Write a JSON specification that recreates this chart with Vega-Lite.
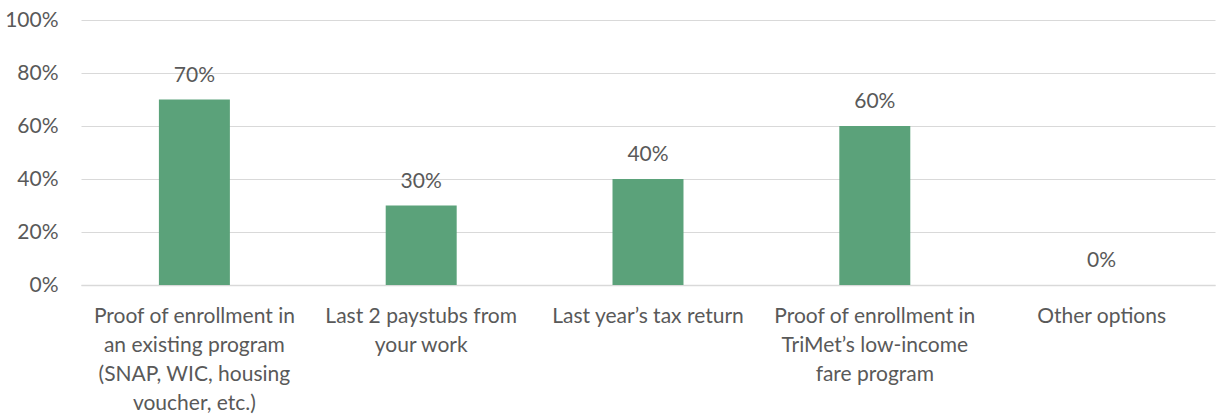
{
  "$schema": "https://vega.github.io/schema/vega-lite/v6.json",
  "width": 1134,
  "height": 265,
  "autosize": {"type": "none"},
  "padding": {"left": 81, "top": 20, "right": 10, "bottom": 133},
  "background": "white",
  "config": {
    "view": {"stroke": null},
    "font": "Lato",
    "axis": {"labelFont": "Lato", "labelColor": "#595959", "labelFontSize": 21}
  },
  "data": {
    "values": [
      {"option": "Proof of enrollment in|an existing program|(SNAP, WIC, housing|voucher, etc.)", "share": 0.7},
      {"option": "Last 2 paystubs from|your work", "share": 0.3},
      {"option": "Last year’s tax return", "share": 0.4},
      {"option": "Proof of enrollment in|TriMet’s low-income|fare program", "share": 0.6},
      {"option": "Other options", "share": 0.0}
    ]
  },
  "encoding": {
    "x": {
      "field": "option", "type": "nominal", "sort": null,
      "scale": {"paddingInner": 0.687, "paddingOuter": 0.3435},
      "axis": {
        "title": null, "labelAngle": 0, "ticks": false, "domain": true,
        "domainColor": "#d9d9d9", "domainWidth": 1.5,
        "labelPadding": 20, "labelLimit": 400, "labelLineHeight": 29,
        "labelBaseline": "top",
        "labelExpr": "split(datum.label, '|')"
      }
    },
    "y": {
      "field": "share", "type": "quantitative",
      "scale": {"domain": [0, 1]},
      "axis": {
        "title": null, "format": ".0%", "values": [0, 0.2, 0.4, 0.6, 0.8, 1],
        "domain": false, "ticks": false, "labelPadding": 23,
        "grid": true, "gridColor": "#d9d9d9", "gridWidth": 1.2
      }
    }
  },
  "layer": [
    {"mark": {"type": "bar", "color": "#5ba27a"}},
    {
      "mark": {"type": "text", "baseline": "alphabetic", "dy": -18, "fontSize": 21, "color": "#595959", "font": "Lato"},
      "encoding": {"text": {"field": "share", "type": "quantitative", "format": ".0%"}}
    }
  ]
}
